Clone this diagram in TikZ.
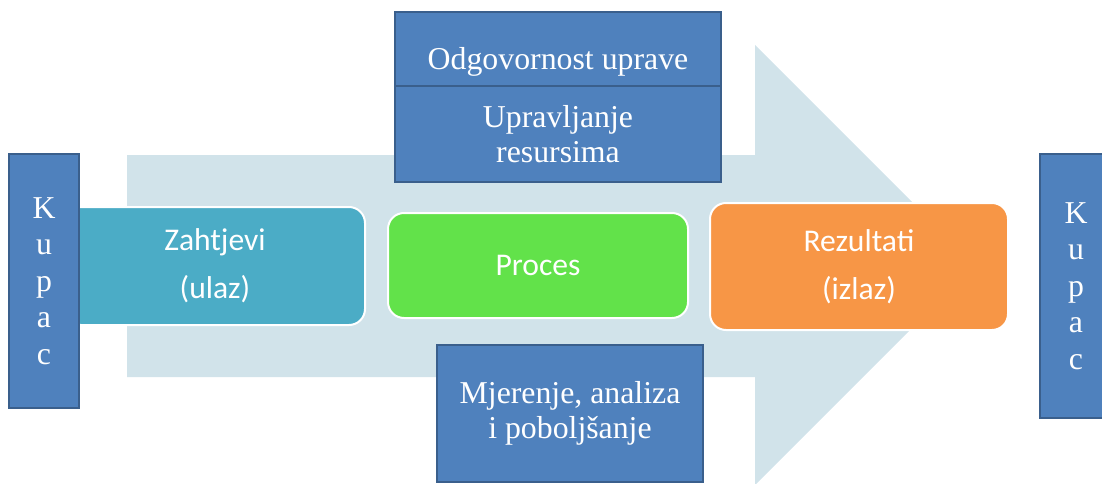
\documentclass[tikz,border=0pt]{standalone}
\usepackage{fontspec}
\setmainfont{Liberation Serif}
\newfontfamily\calibri{Carlito}
\usepackage{tikz}
\usetikzlibrary{shapes}
\usepackage{xcolor}
\definecolor{kblue}{HTML}{4F81BD}
\definecolor{kedge}{HTML}{3A5F8C}
\definecolor{kteal}{HTML}{4BACC6}
\definecolor{kgreen}{HTML}{62E24A}
\definecolor{korange}{HTML}{F79646}
\definecolor{kshaft}{HTML}{D1E3EA}

\begin{document}
\begin{tikzpicture}[x=1pt,y=-1pt,
  bluebox/.style={draw=kedge,fill=kblue,line width=1.6pt,text=white,inner sep=0pt,align=center,font=\fontsize{31.8}{35.5}\selectfont},
  stepbox/.style={draw=white,fill=#1,line width=2pt,rounded corners=16pt,text=white,inner sep=0pt,align=center,font=\calibri\fontsize{31.6}{48}\selectfont}]
\clip (0,0) rectangle (1102,484);
\fill[kshaft] (127,155) -- (755,155) -- (755,45) -- (975,265) -- (755,485) -- (755,377) -- (127,377) -- cycle;
\node[stepbox=kteal, minimum width=300, minimum height=118] (ulaz) at (215,266) {Zahtjevi\\(ulaz)};
\node[bluebox, minimum width=70, minimum height=254, font=\fontsize{31.8}{36.5}\selectfont] (kupac1) at (44,281) {K\\u\\p\\a\\c};
\node[stepbox=kgreen, minimum width=300, minimum height=105] (proces) at (538,265.5) {Proces};
\node[stepbox=korange, minimum width=298, minimum height=127] (izlaz) at (859,266.5) {Rezultati\\(izlaz)};
\node[bluebox, minimum width=72, minimum height=264, font=\fontsize{31.8}{36.5}\selectfont] (kupac2) at (1076,286) {K\\u\\p\\a\\c};
\node[bluebox, minimum width=326, minimum height=100] (uprava) at (558,62) {Odgovornost uprave};
\node[bluebox, minimum width=326, minimum height=96] (resursi) at (558,134) {Upravljanje\\resursima};
\node[bluebox, minimum width=266, minimum height=137] (mjerenje) at (570,413.5) {Mjerenje, analiza\\i poboljšanje};
\end{tikzpicture}
\end{document}
